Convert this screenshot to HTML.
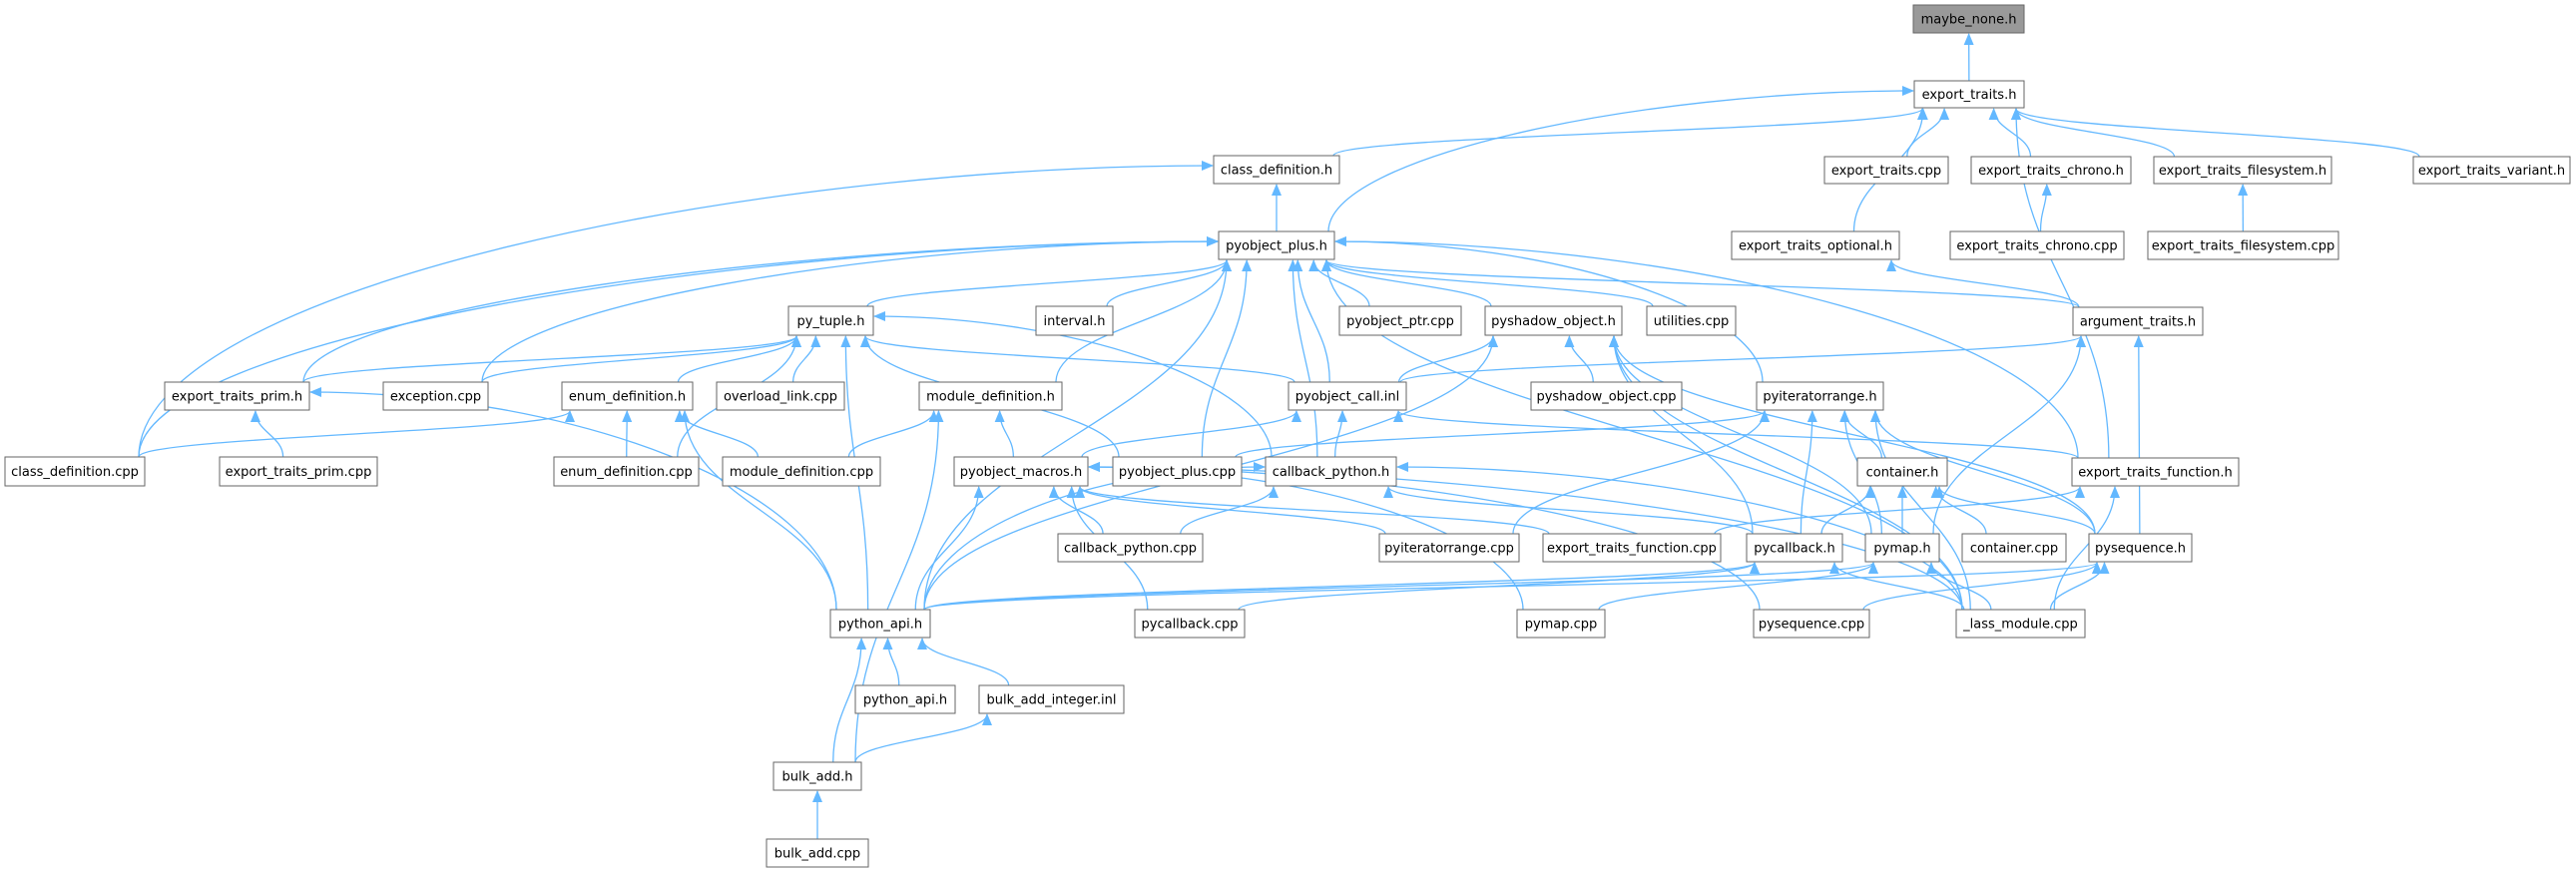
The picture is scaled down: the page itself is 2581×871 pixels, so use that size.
<!DOCTYPE html>
<html><head><meta charset="utf-8"><style>
html,body{margin:0;padding:0;background:#fff;width:2581px;height:871px;overflow:hidden}
svg{position:absolute;left:0;top:0}
text{font-family:"DejaVu Sans","Liberation Sans",sans-serif;font-size:13px;fill:#000}
</style></head><body>
<svg id="s" width="2581" height="871" xmlns="http://www.w3.org/2000/svg">
<defs><marker id="a" markerWidth="12" markerHeight="10" refX="11" refY="5" orient="auto" markerUnits="userSpaceOnUse"><path d="M0,0 L12,5 L0,10 z" fill="#63b8ff"/></marker></defs>
<g id="edges" fill="none" stroke="#63b8ff" stroke-width="1.3"></g>
<g id="nodes" stroke="#666" stroke-width="1">
<rect x="1917" y="5" width="111" height="28" fill="#999"/><text x="1972.5" y="23.5" text-anchor="middle" stroke="none">maybe_none.h</text>
<rect x="1918" y="81" width="110" height="27" fill="#fff"/><text x="1973" y="99" text-anchor="middle" stroke="none">export_traits.h</text>
<rect x="1828" y="157" width="124" height="27" fill="#fff"/><text x="1890" y="175" text-anchor="middle" stroke="none">export_traits.cpp</text>
<rect x="1975" y="157" width="160" height="27" fill="#fff"/><text x="2055" y="175" text-anchor="middle" stroke="none">export_traits_chrono.h</text>
<rect x="2158" y="157" width="178" height="27" fill="#fff"/><text x="2247" y="175" text-anchor="middle" stroke="none">export_traits_filesystem.h</text>
<rect x="2418" y="157" width="157" height="27" fill="#fff"/><text x="2496.5" y="175" text-anchor="middle" stroke="none">export_traits_variant.h</text>
<rect x="1735" y="232" width="168" height="28" fill="#fff"/><text x="1819" y="250.5" text-anchor="middle" stroke="none">export_traits_optional.h</text>
<rect x="1954" y="232" width="174" height="28" fill="#fff"/><text x="2041" y="250.5" text-anchor="middle" stroke="none">export_traits_chrono.cpp</text>
<rect x="2152" y="232" width="191" height="28" fill="#fff"/><text x="2247.5" y="250.5" text-anchor="middle" stroke="none">export_traits_filesystem.cpp</text>
<rect x="1216" y="156" width="126" height="28" fill="#fff"/><text x="1279" y="174.5" text-anchor="middle" stroke="none">class_definition.h</text>
<rect x="1221" y="232" width="116" height="28" fill="#fff"/><text x="1279" y="250.5" text-anchor="middle" stroke="none">pyobject_plus.h</text>
<rect x="790" y="307" width="85" height="29" fill="#fff"/><text x="832.5" y="326" text-anchor="middle" stroke="none">py_tuple.h</text>
<rect x="1038" y="307" width="77" height="29" fill="#fff"/><text x="1076.5" y="326" text-anchor="middle" stroke="none">interval.h</text>
<rect x="1342" y="307" width="122" height="29" fill="#fff"/><text x="1403" y="326" text-anchor="middle" stroke="none">pyobject_ptr.cpp</text>
<rect x="1488" y="307" width="137" height="29" fill="#fff"/><text x="1556.5" y="326" text-anchor="middle" stroke="none">pyshadow_object.h</text>
<rect x="1650" y="307" width="89" height="29" fill="#fff"/><text x="1694.5" y="326" text-anchor="middle" stroke="none">utilities.cpp</text>
<rect x="2077" y="308" width="130" height="28" fill="#fff"/><text x="2142" y="326.5" text-anchor="middle" stroke="none">argument_traits.h</text>
<rect x="165" y="383" width="145" height="28" fill="#fff"/><text x="237.5" y="401.5" text-anchor="middle" stroke="none">export_traits_prim.h</text>
<rect x="384" y="383" width="105" height="28" fill="#fff"/><text x="436.5" y="401.5" text-anchor="middle" stroke="none">exception.cpp</text>
<rect x="563" y="383" width="131" height="28" fill="#fff"/><text x="628.5" y="401.5" text-anchor="middle" stroke="none">enum_definition.h</text>
<rect x="718" y="383" width="128" height="28" fill="#fff"/><text x="782" y="401.5" text-anchor="middle" stroke="none">overload_link.cpp</text>
<rect x="921" y="383" width="143" height="28" fill="#fff"/><text x="992.5" y="401.5" text-anchor="middle" stroke="none">module_definition.h</text>
<rect x="1291" y="383" width="118" height="28" fill="#fff"/><text x="1350" y="401.5" text-anchor="middle" stroke="none">pyobject_call.inl</text>
<rect x="1534" y="383" width="151" height="28" fill="#fff"/><text x="1609.5" y="401.5" text-anchor="middle" stroke="none">pyshadow_object.cpp</text>
<rect x="1760" y="383" width="127" height="28" fill="#fff"/><text x="1823.5" y="401.5" text-anchor="middle" stroke="none">pyiteratorrange.h</text>
<rect x="5" y="458" width="140" height="29" fill="#fff"/><text x="75" y="477" text-anchor="middle" stroke="none">class_definition.cpp</text>
<rect x="220" y="458" width="158" height="29" fill="#fff"/><text x="299" y="477" text-anchor="middle" stroke="none">export_traits_prim.cpp</text>
<rect x="555" y="458" width="145" height="29" fill="#fff"/><text x="627.5" y="477" text-anchor="middle" stroke="none">enum_definition.cpp</text>
<rect x="724" y="458" width="158" height="29" fill="#fff"/><text x="803" y="477" text-anchor="middle" stroke="none">module_definition.cpp</text>
<rect x="956" y="458" width="134" height="29" fill="#fff"/><text x="1023" y="477" text-anchor="middle" stroke="none">pyobject_macros.h</text>
<rect x="1115" y="458" width="129" height="29" fill="#fff"/><text x="1179.5" y="477" text-anchor="middle" stroke="none">pyobject_plus.cpp</text>
<rect x="1268" y="458" width="131" height="29" fill="#fff"/><text x="1333.5" y="477" text-anchor="middle" stroke="none">callback_python.h</text>
<rect x="1861" y="459" width="90" height="28" fill="#fff"/><text x="1906" y="477.5" text-anchor="middle" stroke="none">container.h</text>
<rect x="2076" y="459" width="167" height="28" fill="#fff"/><text x="2159.5" y="477.5" text-anchor="middle" stroke="none">export_traits_function.h</text>
<rect x="1060" y="535" width="145" height="28" fill="#fff"/><text x="1132.5" y="553.5" text-anchor="middle" stroke="none">callback_python.cpp</text>
<rect x="1382" y="535" width="140" height="28" fill="#fff"/><text x="1452" y="553.5" text-anchor="middle" stroke="none">pyiteratorrange.cpp</text>
<rect x="1546" y="535" width="178" height="28" fill="#fff"/><text x="1635" y="553.5" text-anchor="middle" stroke="none">export_traits_function.cpp</text>
<rect x="1750" y="535" width="96" height="28" fill="#fff"/><text x="1798" y="553.5" text-anchor="middle" stroke="none">pycallback.h</text>
<rect x="1869" y="535" width="74" height="28" fill="#fff"/><text x="1906" y="553.5" text-anchor="middle" stroke="none">pymap.h</text>
<rect x="1966" y="535" width="104" height="28" fill="#fff"/><text x="2018" y="553.5" text-anchor="middle" stroke="none">container.cpp</text>
<rect x="2093" y="535" width="103" height="28" fill="#fff"/><text x="2144.5" y="553.5" text-anchor="middle" stroke="none">pysequence.h</text>
<rect x="832" y="611" width="100" height="28" fill="#fff"/><text x="882" y="629.5" text-anchor="middle" stroke="none">python_api.h</text>
<rect x="1137" y="611" width="110" height="28" fill="#fff"/><text x="1192" y="629.5" text-anchor="middle" stroke="none">pycallback.cpp</text>
<rect x="1520" y="611" width="88" height="28" fill="#fff"/><text x="1564" y="629.5" text-anchor="middle" stroke="none">pymap.cpp</text>
<rect x="1757" y="611" width="116" height="28" fill="#fff"/><text x="1815" y="629.5" text-anchor="middle" stroke="none">pysequence.cpp</text>
<rect x="1960" y="611" width="129" height="28" fill="#fff"/><text x="2024.5" y="629.5" text-anchor="middle" stroke="none">_lass_module.cpp</text>
<rect x="857" y="687" width="100" height="28" fill="#fff"/><text x="907" y="705.5" text-anchor="middle" stroke="none">python_api.h</text>
<rect x="981" y="687" width="145" height="28" fill="#fff"/><text x="1053.5" y="705.5" text-anchor="middle" stroke="none">bulk_add_integer.inl</text>
<rect x="775" y="764" width="88" height="28" fill="#fff"/><text x="819" y="782.5" text-anchor="middle" stroke="none">bulk_add.h</text>
<rect x="768" y="841" width="102" height="28" fill="#fff"/><text x="819" y="859.5" text-anchor="middle" stroke="none">bulk_add.cpp</text>
</g>
</svg>
<script>
var N={mn:[1917,5,2028,33],et:[1918,81,2028,108],etc:[1828,157,1952,184],ech:[1975,157,2135,184],efs:[2158,157,2336,184],ev:[2418,157,2575,184],eo:[1735,232,1903,260],ecc:[1954,232,2128,260],efc:[2152,232,2343,260],cdh:[1216,156,1342,184],pp:[1221,232,1337,260],pt:[790,307,875,336],iv:[1038,307,1115,336],ppc:[1342,307,1464,336],ps:[1488,307,1625,336],ut:[1650,307,1739,336],at:[2077,308,2207,336],ep:[165,383,310,411],ex:[384,383,489,411],ed:[563,383,694,411],ol:[718,383,846,411],md:[921,383,1064,411],pc:[1291,383,1409,411],psc:[1534,383,1685,411],pi:[1760,383,1887,411],cdc:[5,458,145,487],epc:[220,458,378,487],edc:[555,458,700,487],mdc:[724,458,882,487],pm:[956,458,1090,487],ppl:[1115,458,1244,487],cb:[1268,458,1399,487],ch:[1861,459,1951,487],ef:[2076,459,2243,487],cbc:[1060,535,1205,563],pic:[1382,535,1522,563],efc2:[1546,535,1724,563],pcb:[1750,535,1846,563],pmh:[1869,535,1943,563],cc:[1966,535,2070,563],psq:[2093,535,2196,563],pa:[832,611,932,639],pcc:[1137,611,1247,639],pmc:[1520,611,1608,639],psqc:[1757,611,1873,639],lm:[1960,611,2089,639],pa2:[857,687,957,715],bai:[981,687,1126,715],ba:[775,764,863,792],bac:[768,841,870,869]};
var E=[["et","mn"],["etc","et"],["ech","et"],["efs","et"],["ev","et"],["eo","et"],["cdh","et"],["pp","et"],["ef","et"],["ecc","ech"],["efc","efs"],["pp","cdh"],["cdc","cdh"],["at","eo"],["at","pp"],
["cdc","pp"],["ep","pp"],["ex","pp"],["pt","pp"],["pa","pp"],["md","pp"],["iv","pp"],["ppc","pp"],["ps","pp"],["ut","pp"],["ppl","pp"],["cb","pp"],["pc","pp"],["pi","pp"],["ef","pp"],["lm","pp"],
["ep","pt"],["ex","pt"],["ed","pt"],["ol","pt"],["edc","pt"],["pa","pt"],["pc","pt"],["cb","pt"],["ppl","pt"],
["epc","ep"],["pa","ep"],["cdc","ed"],["edc","ed"],["mdc","ed"],["pa","ed"],["mdc","md"],["pm","md"],["ba","md"],
["pm","pc"],["cb","pc"],["ef","pc"],["pc","at"],
["pc","ps"],["psc","ps"],["pa","ps"],["pcb","ps"],["pmh","ps"],["psq","ps"],["lm","ps"],
["ppl","pi"],["pcb","pi"],["pmh","pi"],["ch","pi"],["pic","pi"],["lm","pi"],["psq","pi"],
["pcb","ch"],["pmh","ch"],["cc","ch"],["psq","ch"],["pmh","at"],["psq","at"],["efc2","ef"],["lm","ef"],
["pa","pm"],["pcc","pm"],["pmc","pm"],["psqc","pm"],["lm","pm"],["cbc","pm"],["pic","pm"],["efc2","pm"],
["cbc","cb"],["pa","cb"],["pcb","cb"],["lm","cb"],["pa","pcb"],["pcc","pcb"],["lm","pcb"],["pa","pmh"],["pmc","pmh"],["lm","pmh"],["pa","psq"],["psqc","psq"],["lm","psq"],
["pa2","pa"],["bai","pa"],["ba","pa"],["ba","bai"],["bac","ba"]];
var g=document.getElementById("edges"),h="";
E.forEach(function(e){var c=N[e[0]],p=N[e[1]];
var ccx=(c[0]+c[2])/2,pcx=(p[0]+p[2])/2,d;
if(c[1]>p[3]+5){var vd=c[1]-p[3],hd=Math.abs(ccx-pcx);
var sx=ccx+Math.max(-(c[2]-c[0])/2+6,Math.min((c[2]-c[0])/2-6,(pcx-ccx)*0.25));var sy=c[1];
if(vd>=70&&hd>3*vd&&(ccx<p[0]||ccx>p[2])){var dir=ccx<pcx?1:-1;var ex=dir>0?p[0]-1:p[2]+1,ey=p[1]+10;
d="M"+sx+","+sy+" C"+sx+","+(sy-vd*0.6)+" "+(ex-dir*hd*0.4)+","+ey+" "+ex+","+ey;}
else{var ex=pcx+(ccx-pcx)*0.3;ex=Math.max(p[0]+8,Math.min(p[2]-8,ex));
var ey=p[3]+1,dy=(sy-ey)*0.45;
d="M"+sx+","+sy+" C"+sx+","+(sy-dy)+" "+ex+","+(ey+dy)+" "+ex+","+ey;}}
else if(c[3]<p[1]){var sx=ccx,sy=c[3],ex=pcx,ey=p[1]-1;d="M"+sx+","+sy+" C"+sx+","+(sy+30)+" "+ex+","+(ey-30)+" "+ex+","+ey;}
else{var sy=(c[1]+c[3])/2,ey=(p[1]+p[3])/2,sx,ex;if(ccx<pcx){sx=c[2];ex=p[0]-1}else{sx=c[0];ex=p[2]+1}
d="M"+sx+","+sy+" L"+ex+","+ey;}
h+='<path d="'+d+'" marker-end="url(#a)"/>';});
g.innerHTML=h;
</script>
</body></html>
